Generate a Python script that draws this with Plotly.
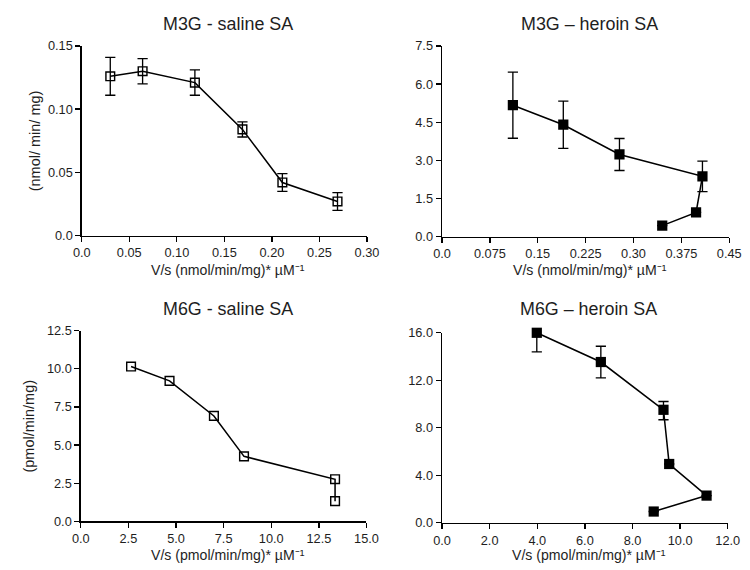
import plotly.graph_objects as go

# ---------------- data ----------------
m3g_sal_x = [0.030, 0.064, 0.119, 0.169, 0.211, 0.269]
m3g_sal_y = [0.126, 0.130, 0.121, 0.084, 0.042, 0.027]
m3g_sal_err = [0.015, 0.010, 0.010, 0.006, 0.007, 0.007]

m3g_her_x = [0.111, 0.190, 0.278, 0.408, 0.398, 0.345]
m3g_her_y = [5.17, 4.40, 3.23, 2.37, 0.95, 0.43]
m3g_her_err = [1.30, 0.93, 0.63, 0.60, None, None]

m6g_sal_x = [2.64, 4.66, 6.99, 8.57, 13.35, 13.35]
m6g_sal_y = [10.15, 9.21, 6.91, 4.26, 2.76, 1.32]

m6g_her_x = [3.98, 6.67, 9.30, 9.54, 11.11, 8.89]
m6g_her_y = [15.99, 13.53, 9.51, 4.95, 2.29, 0.95]
m6g_her_err_up = [0.50, 1.33, 0.70, None, None, None]
m6g_her_err_dn = [1.60, 1.33, 0.84, None, None, None]

titles = ["M3G - saline SA", "M3G \u2013 heroin SA", "M6G - saline SA", "M6G \u2013 heroin SA"]
x_titles = ["V/s (nmol/min/mg)* \u00b5M\u207b\u00b9", "V/s (nmol/min/mg)* \u00b5M\u207b\u00b9",
            "V/s (pmol/min/mg)* \u00b5M\u207b\u00b9", "V/s (pmol/min/mg)* \u00b5M\u207b\u00b9"]
y_titles = ["(nmol/ min/ mg)", "(pmol/min/mg)"]

x1_ticks = [0.0, 0.05, 0.10, 0.15, 0.20, 0.25, 0.30]
x1_text = ["0.0", "0.05", "0.10", "0.15", "0.20", "0.25", "0.30"]
y1_ticks = [0.0, 0.05, 0.10, 0.15]
y1_text = ["0.0", "0.05", "0.10", "0.15"]

x2_ticks = [0.0, 0.075, 0.15, 0.225, 0.30, 0.375, 0.45]
x2_text = ["0.0", "0.075", "0.15", "0.225", "0.30", "0.375", "0.45"]
y2_ticks = [0.0, 1.5, 3.0, 4.5, 6.0, 7.5]
y2_text = ["0.0", "1.5", "3.0", "4.5", "6.0", "7.5"]

x3_ticks = [0.0, 2.5, 5.0, 7.5, 10.0, 12.5, 15.0]
x3_text = ["0.0", "2.5", "5.0", "7.5", "10.0", "12.5", "15.0"]
y3_ticks = [0.0, 2.5, 5.0, 7.5, 10.0, 12.5]
y3_text = ["0.0", "2.5", "5.0", "7.5", "10.0", "12.5"]

x4_ticks = [0.0, 2.0, 4.0, 6.0, 8.0, 10.0, 12.0]
x4_text = ["0.0", "2.0", "4.0", "6.0", "8.0", "10.0", "12.0"]
y4_ticks = [0.0, 4.0, 8.0, 12.0, 16.0]
y4_text = ["0.0", "4.0", "8.0", "12.0", "16.0"]

# ---------------- figure ----------------
W, H = 750, 570
FONT = "Liberation Sans, Arial, sans-serif"
# observed mapping from page pixels to the photographed picture
A_X, A_Y, S = 6.3, 5.4, 0.978


def px(v):
    return (v - A_X) / S


def py(v):
    return (v - A_Y) / S


def sz(v):
    return v / S


fig = go.Figure()

open_marker = dict(symbol="square-open", size=sz(8.5), color="black", line=dict(width=sz(1.4), color="black"))
fill_marker = dict(symbol="square", size=sz(10), color="black")
eb = dict(type="data", color="black", thickness=sz(1.3), width=sz(5))
ln = dict(color="black", width=sz(1.5))

fig.add_trace(go.Scatter(x=m3g_sal_x, y=m3g_sal_y, mode="lines+markers", line=ln, marker=open_marker,
                         error_y=dict(array=m3g_sal_err, **eb), xaxis="x", yaxis="y"))
fig.add_trace(go.Scatter(x=m3g_her_x, y=m3g_her_y, mode="lines+markers", line=ln, marker=fill_marker,
                         error_y=dict(array=m3g_her_err, **eb), xaxis="x2", yaxis="y2"))
fig.add_trace(go.Scatter(x=m6g_sal_x, y=m6g_sal_y, mode="lines+markers", line=ln, marker=open_marker,
                         xaxis="x3", yaxis="y3"))
fig.add_trace(go.Scatter(x=m6g_her_x, y=m6g_her_y, mode="lines+markers", line=ln, marker=fill_marker,
                         error_y=dict(array=m6g_her_err_up, arrayminus=m6g_her_err_dn, symmetric=False, **eb),
                         xaxis="x4", yaxis="y4", cliponaxis=False))

# target geometry of the four plot areas in the picture: (left, right, top, bottom)
boxes = [(79.5, 366.5, 43.5, 234.0),
         (442.0, 731.0, 43.5, 235.0),
         (78.5, 366.0, 329.5, 521.0),
         (442.0, 729.5, 331.5, 522.5)]
title_y = [21.5, 21.5, 307.5, 307.5]
xtitle_y = [268.5, 268.5, 554.5, 554.5]
xr = [(0, 0.30), (0, 0.45), (0, 15.0), (0, 12.0)]
yr = [(0, 0.15), (0, 7.5), (0, 12.5), (0, 16.0)]
xt = [(x1_ticks, x1_text), (x2_ticks, x2_text), (x3_ticks, x3_text), (x4_ticks, x4_text)]
yt = [(y1_ticks, y1_text), (y2_ticks, y2_text), (y3_ticks, y3_text), (y4_ticks, y4_text)]

TXT = "#1e1e1e"
tickfont = dict(family=FONT, size=sz(12.5), color=TXT)
layout = dict(width=W, height=H, margin=dict(l=0, r=0, t=0, b=0),
              paper_bgcolor="white", plot_bgcolor="white", showlegend=False,
              font=dict(family=FONT, color=TXT))
annotations = []
for i in range(4):
    l, r, t, b = boxes[i]
    sx = "" if i == 0 else str(i + 1)
    common = dict(showline=True, linecolor="black", linewidth=sz(1.3), ticks="outside", ticklen=sz(5),
                  tickwidth=sz(1.3), tickcolor="black", showgrid=False, zeroline=False,
                  tickfont=tickfont, fixedrange=True)
    layout["xaxis" + sx] = dict(domain=[px(l) / W, px(r) / W], range=list(xr[i]), anchor="y" + sx,
                                tickvals=xt[i][0], ticktext=xt[i][1], **common)
    layout["yaxis" + sx] = dict(domain=[1 - py(b) / H, 1 - py(t) / H], range=list(yr[i]), anchor="x" + sx,
                                tickvals=yt[i][0], ticktext=yt[i][1], **common)
    cx = (l + r) / 2
    annotations.append(dict(text=titles[i], x=px(cx + 4) / W, y=1 - py(title_y[i]) / H,
                            xref="paper", yref="paper", showarrow=False, xanchor="center", yanchor="middle",
                            font=dict(family=FONT, size=sz(17.5), color=TXT)))
    annotations.append(dict(text=x_titles[i], x=px(cx + 4) / W, y=1 - py(xtitle_y[i]) / H,
                            xref="paper", yref="paper", showarrow=False, xanchor="center", yanchor="middle",
                            font=dict(family=FONT, size=sz(13.8), color=TXT)))

# y-axis titles (left column only)
for (yi, cxp, i) in zip(y_titles, [32.0, 26.0], [0, 2]):
    l, r, t, b = boxes[i]
    annotations.append(dict(text=yi, x=px(cxp) / W, y=1 - py((t + b) / 2) / H, xref="paper", yref="paper",
                            showarrow=False, textangle=-90, xanchor="center", yanchor="middle",
                            font=dict(family=FONT, size=sz(14.2), color=TXT)))

layout["annotations"] = annotations
fig.update_layout(**layout)
fig.write_html("out.html", config={"displayModeBar": False, "staticPlot": True},
               post_script="document.body.style.margin='0';document.body.style.overflow='hidden';")
